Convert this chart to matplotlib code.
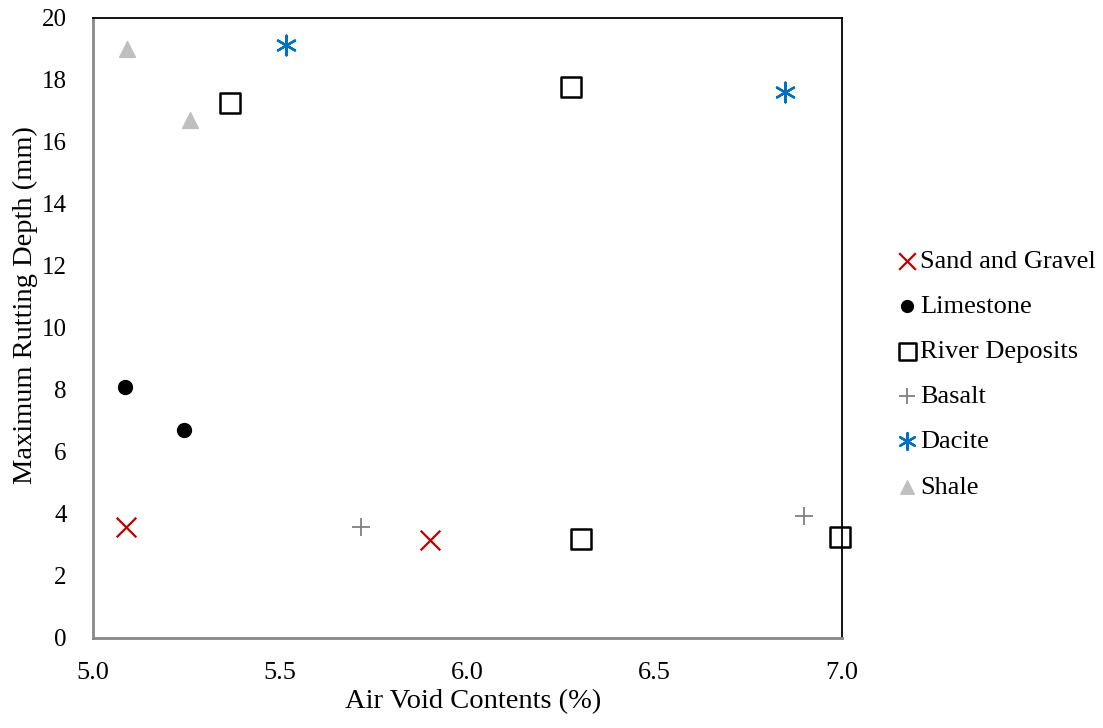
import matplotlib
matplotlib.use("Agg")
import matplotlib.pyplot as plt

plt.rcParams['font.family'] = ['Liberation Serif', 'DejaVu Serif']

sand_x = [5.088, 5.900]
sand_y = [3.58, 3.16]
lime_x = [5.085, 5.243]
lime_y = [8.10, 6.71]
river_x = [5.366, 6.276, 6.303, 6.995]
river_y = [17.26, 17.77, 3.19, 3.26]
basalt_x = [5.716, 6.898]
basalt_y = [3.58, 3.94]
dacite_x = [5.515, 6.848]
dacite_y = [19.13, 17.61]
shale_x = [5.091, 5.259]
shale_y = [19.00, 16.71]

x_ticks = [5.0, 5.5, 6.0, 6.5, 7.0]
y_ticks = [0, 2, 4, 6, 8, 10, 12, 14, 16, 18, 20]

W, H = 1103, 728
fig = plt.figure(figsize=(W / 100, H / 100), dpi=100)
ax = fig.add_axes([93 / W, 90 / H, (842 - 93) / W, (638 - 18) / H])

ax.scatter(sand_x, sand_y, marker='x', s=200, color='#C00000', linewidths=1.6, label='Sand and Gravel', zorder=3)
ax.scatter(lime_x, lime_y, marker='o', s=100, color='black', label='Limestone', zorder=3)
ax.scatter(river_x, river_y, marker='s', s=200, facecolors='none', edgecolors='black', linewidths=1.8, label='River Deposits', zorder=3, clip_on=False)
ax.scatter(basalt_x, basalt_y, marker='+', s=170, color='#808080', linewidths=1.3, label='Basalt', zorder=3)
ax.scatter(dacite_x, dacite_y, marker=(6, 2, 0), s=200, color='#0070C0', linewidths=1.7, label='Dacite', zorder=3)
ax.scatter(shale_x, shale_y, marker='^', s=130, color='#BFBFBF', label='Shale', zorder=3)

ax.set_xlim(5.0, 7.0)
ax.set_ylim(0, 20)
ax.set_xticks(x_ticks)
ax.set_xticklabels([f"{v:.1f}" for v in x_ticks])
ax.set_yticks(y_ticks)
ax.tick_params(length=0)
ax.tick_params(axis='x', labelsize=19, pad=17)
ax.tick_params(axis='y', labelsize=18, pad=19)

for side in ['left', 'bottom']:
    ax.spines[side].set_color('#898989')
    ax.spines[side].set_linewidth(2.0)
for side in ['top', 'right']:
    ax.spines[side].set_color('black')
    ax.spines[side].set_linewidth(1.3)

fig.text(473 / W, 1 - 702 / H, 'Air Void Contents (%)', fontsize=20.5, ha='center', va='center')
fig.text(25 / W, 1 - 305 / H, 'Maximum Rutting Depth (mm)', fontsize=20.5, ha='center', va='center', rotation=90)

leg = ax.legend(loc='center left', bbox_to_anchor=(894 / W, 1 - 374 / H), bbox_transform=fig.transFigure,
                frameon=False, fontsize=19, handletextpad=0.0, labelspacing=0.82, handlelength=1.0,
                borderaxespad=0, borderpad=0, markerscale=0.85)

fig.savefig('out.png', dpi=100)
